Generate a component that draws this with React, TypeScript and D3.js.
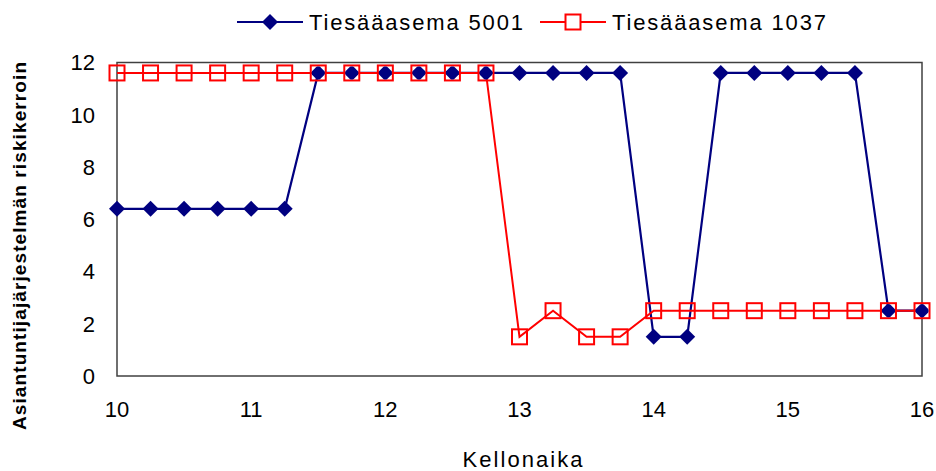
import React from "react";
import * as d3 from "d3";

// Time of day (hours) and expert-system risk coefficients for two road weather stations
const times: number[] = [
  10, 10.25, 10.5, 10.75, 11, 11.25, 11.5, 11.75, 12, 12.25, 12.5, 12.75, 13,
  13.25, 13.5, 13.75, 14, 14.25, 14.5, 14.75, 15, 15.25, 15.5, 15.75, 16,
];
const station5001: number[] = [
  6.4, 6.4, 6.4, 6.4, 6.4, 6.4, 11.6, 11.6, 11.6, 11.6, 11.6, 11.6, 11.6,
  11.6, 11.6, 11.6, 1.5, 1.5, 11.6, 11.6, 11.6, 11.6, 11.6, 2.5, 2.5,
];
const station1037: number[] = [
  11.6, 11.6, 11.6, 11.6, 11.6, 11.6, 11.6, 11.6, 11.6, 11.6, 11.6, 11.6, 1.5,
  2.5, 1.5, 1.5, 2.5, 2.5, 2.5, 2.5, 2.5, 2.5, 2.5, 2.5, 2.5,
];
const xTicks: number[] = [10, 11, 12, 13, 14, 15, 16];
const yTicks: number[] = [0, 2, 4, 6, 8, 10, 12];
const seriesNames: string[] = ["Tiesääasema 5001", "Tiesääasema 1037"];
const xTitle = "Kellonaika";
const yTitle = "Asiantuntijajärjestelmän riskikerroin";

const W = 936;
const H = 471;
const plot = { left: 117, right: 922, top: 62.5, bottom: 376 };
const NAVY = "#000080";
const RED = "#FF0000";
const FONT = "'Liberation Sans', Arial, Helvetica, sans-serif";

const x = d3.scaleLinear().domain([10, 16]).range([plot.left, plot.right]);
const y = d3.scaleLinear().domain([0, 12]).range([plot.bottom, plot.top]);

const D = 8; // diamond half-diagonal
const S = 7.5; // square half-side

const diamondPath = (cx: number, cy: number) =>
  `M${cx},${cy - D}L${cx + D},${cy}L${cx},${cy + D}L${cx - D},${cy}Z`;

export default function App() {
  const line = d3
    .line<number>()
    .x((_, i) => x(times[i]))
    .y((v) => y(v));

  const blueData = station5001;
  const redData = station1037;

  return (
    <svg
      width={W}
      height={H}
      style={{ position: "absolute", left: 0, top: 0, background: "#fff" }}
      fontFamily={FONT}
    >
      <defs>
        {times.map((t, i) => (
          <clipPath id={`sq-${i}`} key={i}>
            <rect
              x={x(t) - S + 1}
              y={y(redData[i]) - S + 1}
              width={2 * S - 2}
              height={2 * S - 2}
            />
          </clipPath>
        ))}
      </defs>

      {/* plot frame */}
      <rect
        x={plot.left}
        y={plot.top}
        width={plot.right - plot.left}
        height={plot.bottom - plot.top}
        fill="none"
        stroke="#404040"
        strokeWidth={1.5}
      />

      {/* y tick labels */}
      {yTicks.map((t) => (
        <text
          key={t}
          x={95}
          y={y(t)}
          dy="0.36em"
          textAnchor="end"
          fontSize={22}
          fill="#000"
        >
          {t}
        </text>
      ))}

      {/* x tick labels */}
      {xTicks.map((t) => (
        <text
          key={t}
          x={x(t)}
          y={417}
          textAnchor="middle"
          fontSize={22}
          fill="#000"
        >
          {t}
        </text>
      ))}

      {/* axis titles */}
      <text
        x={(plot.left + plot.right) / 2 + 3}
        y={467}
        textAnchor="middle"
        fontSize={22}
        textLength={120}
        lengthAdjust="spacing"
        fill="#000"
      >
        {xTitle}
      </text>
      <text
        transform={`translate(26, ${246}) rotate(-90)`}
        textAnchor="middle"
        fontSize={19}
        fontWeight="bold"
        textLength={368}
        lengthAdjust="spacing"
        fill="#000"
      >
        {yTitle}
      </text>

      {/* series lines */}
      <path d={line(blueData) ?? ""} fill="none" stroke={NAVY} strokeWidth={2.2} />
      <path d={line(redData) ?? ""} fill="none" stroke={RED} strokeWidth={2} />

      {/* markers */}
      {times.map((t, i) => {
        const cx = x(t);
        const by = y(blueData[i]);
        const ry = y(redData[i]);
        const same = blueData[i] === redData[i];
        return (
          <g key={i}>
            {!same && <path d={diamondPath(cx, by)} fill={NAVY} />}
            <rect
              x={cx - S}
              y={ry - S}
              width={2 * S}
              height={2 * S}
              fill="none"
              stroke={RED}
              strokeWidth={2}
            />
            {same && (
              <path
                d={diamondPath(cx, by)}
                fill={NAVY}
                clipPath={`url(#sq-${i})`}
              />
            )}
          </g>
        );
      })}

      {/* legend */}
      <g>
        <line x1={237} x2={303} y1={22} y2={22} stroke={NAVY} strokeWidth={2.2} />
        <path d={diamondPath(270, 22)} fill={NAVY} />
        <text x={309} y={30} fontSize={22} textLength={214} lengthAdjust="spacing" fill="#000">
          {seriesNames[0]}
        </text>
        <line x1={540} x2={606} y1={22} y2={22} stroke={RED} strokeWidth={2} />
        <rect x={573 - S} y={22 - S} width={2 * S} height={2 * S} fill="#fff" stroke={RED} strokeWidth={2} />
        <text x={612} y={30} fontSize={22} textLength={214} lengthAdjust="spacing" fill="#000">
          {seriesNames[1]}
        </text>
      </g>
    </svg>
  );
}
